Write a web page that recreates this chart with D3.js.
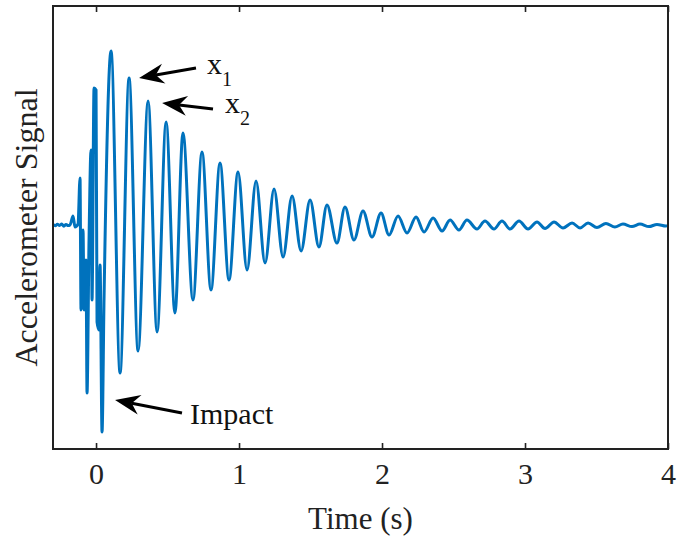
<!DOCTYPE html>
<html>
<head>
<meta charset="utf-8">
<script src="https://cdn.jsdelivr.net/npm/d3@7"></script>
<style>
  body { margin: 0; background: #fff; }
  svg { display: block; font-family: "Liberation Serif", "Times New Roman", serif; }
</style>
</head>
<body>
<div id="chart"></div>
<script>
// Tick labels on the time axis
const xTicks = [0, 1, 2, 3, 4];

// Quiet signal before the hammer hits
const quietTimes  = [-0.301, -0.285, -0.27, -0.255, -0.24, -0.225, -0.21, -0.195, -0.182];
const quietValues = [0.003, -0.004, 0.004, -0.002, 0.005, -0.006, 0.003, -0.003, 0.0];

// Impact burst
const impactTimes  = [-0.161, -0.147, -0.126, -0.112, -0.105, -0.091, -0.084, -0.070, -0.063, -0.049,
                      -0.035, -0.028, -0.014, 0.000, 0.007, 0.021, 0.028, 0.042, 0.056];
const impactValues = [0.045, -0.010, 0.005, 0.235, -0.425, -0.025, -0.425, -0.175, -0.840, -0.075,
                      0.375, -0.375, 0.685, 0.675, -0.485, -0.525, -0.200, -1.035, -0.365];

// Free decay: peaks and troughs
const peakTimes  = [0.105, 0.231, 0.364, 0.490, 0.608, 0.741, 0.867, 0.993, 1.119, 1.245,
                    1.371, 1.497, 1.615, 1.741, 1.867, 1.993, 2.112, 2.238, 2.357, 2.476,
                    2.594, 2.720, 2.839, 2.958, 3.084, 3.203, 3.329, 3.441, 3.566, 3.685,
                    3.804, 3.923];
const peakValues = [0.870, 0.735, 0.620, 0.515, 0.460, 0.365, 0.310, 0.265, 0.220, 0.180,
                    0.145, 0.125, 0.100, 0.090, 0.070, 0.060, 0.045, 0.040, 0.035, 0.025,
                    0.025, 0.020, 0.020, 0.020, 0.015, 0.015, 0.010, 0.010, 0.008, 0.005,
                    0.005, 0.003];
const troughTimes  = [0.168, 0.294, 0.427, 0.552, 0.678, 0.804, 0.930, 1.056, 1.182, 1.308,
                      1.434, 1.559, 1.685, 1.804, 1.930, 2.049, 2.175, 2.294, 2.420, 2.538,
                      2.664, 2.783, 2.895, 3.021, 3.140, 3.266, 3.385, 3.503, 3.629, 3.748,
                      3.867, 3.986, 4.0];
const troughValues = [-0.740, -0.630, -0.535, -0.440, -0.375, -0.325, -0.275, -0.225, -0.190, -0.160,
                      -0.130, -0.110, -0.090, -0.075, -0.060, -0.050, -0.040, -0.035, -0.030, -0.025,
                      -0.020, -0.020, -0.020, -0.020, -0.018, -0.015, -0.015, -0.013, -0.010, -0.008,
                      -0.008, -0.005, -0.003];

// Build one time-ordered series
let data = [];
quietTimes.forEach((t, i) => data.push({t: t, v: quietValues[i]}));
impactTimes.forEach((t, i) => data.push({t: t, v: impactValues[i]}));
peakTimes.forEach((t, i) => data.push({t: t, v: peakValues[i]}));
troughTimes.forEach((t, i) => data.push({t: t, v: troughValues[i]}));
data.sort((a, b) => a.t - b.t);

// Chart sizes
const width = 677,
    height = 537,
    margin = ({top: 6, right: 9, bottom: 88, left: 53});

const svg = d3.select("#chart")
    .append("svg")
    .attr("width", width)
    .attr("height", height);

// Scales
const x = d3.scaleLinear()
    .domain([-0.301, 4.0])
    .range([margin.left, width - margin.right]);

const y = d3.scaleLinear()
    .domain([-1.12, 1.095])
    .range([height - margin.bottom, margin.top]);

// Signal line
const line = d3.line()
    .x(d => x(d.t))
    .y(d => y(d.v))
    .curve(d3.curveMonotoneX);

svg.append("path")
    .datum(data)
    .attr("fill", "none")
    .attr("stroke", "#0072BD")
    .attr("stroke-width", 3)
    .attr("stroke-linejoin", "round")
    .attr("d", line);

// Bottom axis, ticks pointing inward
const xAxis = svg.append("g")
    .attr("transform", `translate(0,${height - margin.bottom})`)
    .call(d3.axisBottom(x)
        .tickValues(xTicks)
        .tickSize(-6)
        .tickSizeOuter(0)
        .tickPadding(12)
        .tickFormat(d3.format("d")));
xAxis.select(".domain").remove();
xAxis.selectAll(".tick line").attr("stroke", "#222").attr("stroke-width", 1.6);
xAxis.selectAll(".tick text")
    .attr("font-family", "Liberation Serif, Times New Roman, serif")
    .attr("font-size", 30)
    .attr("fill", "#222")
    .attr("dy", "0.78em");

// Top ticks mirrored
const xTop = svg.append("g")
    .attr("transform", `translate(0,${margin.top})`)
    .call(d3.axisTop(x)
        .tickValues(xTicks)
        .tickSize(-6)
        .tickSizeOuter(0)
        .tickFormat(""));
xTop.select(".domain").remove();
xTop.selectAll(".tick line").attr("stroke", "#222").attr("stroke-width", 1.6);

// Axes box
svg.append("rect")
    .attr("x", x.range()[0])
    .attr("y", y.range()[1])
    .attr("width", x.range()[1] - x.range()[0])
    .attr("height", y.range()[0] - y.range()[1])
    .attr("fill", "none")
    .attr("stroke", "#222")
    .attr("stroke-width", 2);

// Axis labels
svg.append("text")
    .attr("text-anchor", "middle")
    .attr("x", (x.range()[0] + x.range()[1]) / 2)
    .attr("y", 529)
    .attr("font-size", 31)
    .attr("fill", "#222")
    .text("Time (s)");

svg.append("text")
    .attr("text-anchor", "middle")
    .attr("transform", `translate(37,${(y.range()[0] + y.range()[1]) / 2}) rotate(-90)`)
    .attr("font-size", 32)
    .attr("fill", "#222")
    .text("Accelerometer Signal");

// Arrows with swept-back heads
function arrow(t0, v0, t1, v1) {
    const x0 = x(t0), y0 = y(v0), x1 = x(t1), y1 = y(v1);
    const ang = Math.atan2(y1 - y0, x1 - x0);
    const L = 25, W = 10, notch = 8;
    const g = svg.append("g")
        .attr("transform", `translate(${x1},${y1}) rotate(${ang * 180 / Math.PI})`);
    const len = Math.hypot(x1 - x0, y1 - y0);
    g.append("line")
        .attr("x1", -len).attr("y1", 0)
        .attr("x2", -L + notch).attr("y2", 0)
        .attr("stroke", "#000")
        .attr("stroke-width", 3);
    g.append("path")
        .attr("d", `M0,0 L${-L},${-W} L${-L + notch},0 L${-L},${W} Z`)
        .attr("fill", "#000");
}

arrow(0.699, 0.785, 0.301, 0.735);
arrow(0.818, 0.580, 0.462, 0.610);
arrow(0.601, -0.940, 0.133, -0.875);

// Annotation labels
function subLabel(t, v, main, sub) {
    const txt = svg.append("text")
        .attr("x", x(t))
        .attr("y", y(v))
        .attr("font-size", 30)
        .attr("fill", "#111");
    txt.append("tspan").text(main);
    txt.append("tspan")
        .attr("dy", 12)
        .attr("font-size", 20)
        .text(sub);
}
subLabel(0.776, 0.755, "x", "1");
subLabel(0.902, 0.56, "x", "2");

svg.append("text")
    .attr("x", x(0.657))
    .attr("y", y(-0.995))
    .attr("font-size", 30)
    .attr("fill", "#111")
    .text("Impact");
</script>
</body>
</html>
